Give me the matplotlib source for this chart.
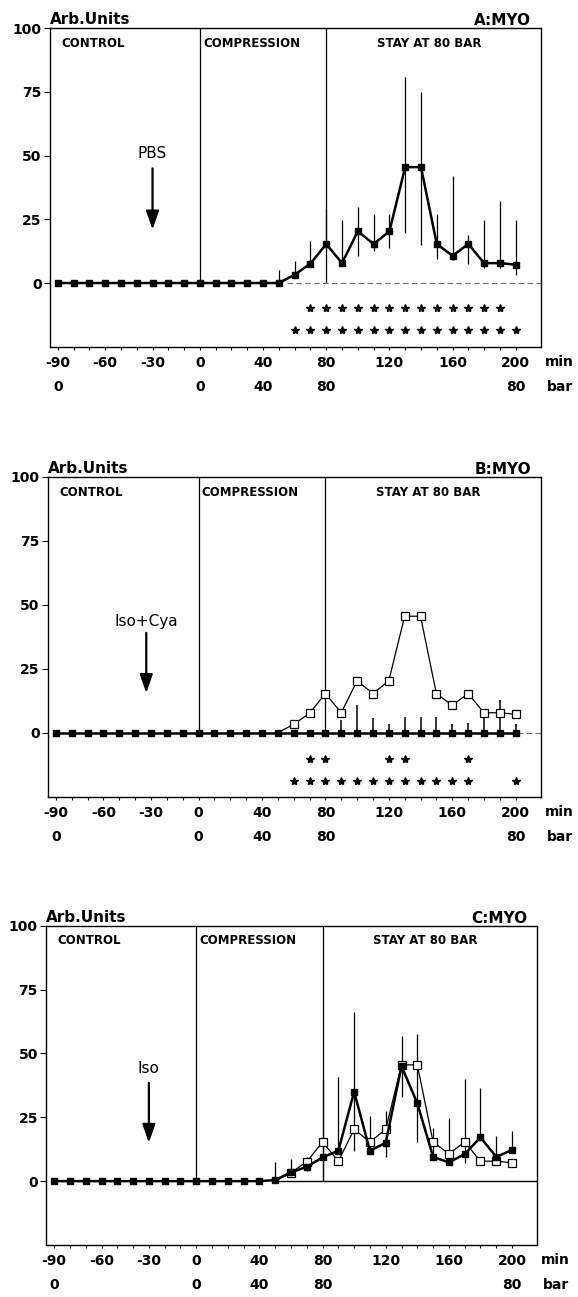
import matplotlib.pyplot as plt
from matplotlib.transforms import blended_transform_factory

plt.rcParams['font.family'] = 'DejaVu Sans'
plt.rcParams['font.weight'] = 'bold'

# sampling times (min)
minutes = [-90, -80, -70, -60, -50, -40, -30, -20, -10, 0, 10, 20, 30, 40, 50,
           60, 70, 80, 90, 100, 110, 120, 130, 140, 150, 160, 170, 180, 190, 200]

# A: PBS (also shown as open squares in B and C)
pbs_mean = [0, 0, 0, 0, 0, 0, 0, 0, 0, 0, 0, 0, 0, 0, 0,
            3.3, 7.6, 15.3, 7.8, 20.3, 15.3, 20.3, 45.5, 45.5, 15.3, 10.7, 15.3, 7.8, 7.8, 7.2]
pbs_top = [0, 0, 0, 0, 0, 0, 0, 0, 0, 0, 0, 0, 0, 0, 5,
           8.8, 16.6, 29, 24.8, 29.8, 27, 27, 81, 75, 27, 42, 19, 24.8, 32, 24.8]
pbs_bot = [0, 0, 0, 0, 0, 0, 0, 0, 0, 0, 0, 0, 0, 0, 0,
           3.3, 7.6, 15.3, 7.8, 10.5, 12.7, 13.7, 19.6, 14.8, 9.4, 9.1, 7.6, 5.9, 5.9, 3]

# B: Iso+Cya
cya_mean = [0, 0, 0, 0, 0, 0, 0, 0, 0, 0, 0, 0, 0, 0, 0,
            0, 0, 0, 0, 0, 0, 0, 0, 0, 0, 0, 0, 0, 0, 0]
cya_top = [0, 0, 0, 0, 0, 0, 0, 0, 0, 0, 0, 0, 0, 0, 0,
           0, 0, 0, 5, 10.7, 5.6, 3.6, 6, 6, 6, 3.6, 3.9, 8.2, 12.8, 3.6]

# C: Iso
iso_mean = [0, 0, 0, 0, 0, 0, 0, 0, 0, 0, 0, 0, 0, 0, 0.4,
            3.4, 5.6, 9.3, 11.9, 35, 11.9, 15, 45, 30.5, 9.5, 7.3, 10.6, 17.1, 9.5, 12.2]
iso_top = [0, 0, 0, 0, 0, 0, 0, 0, 0, 0, 0, 0, 0, 0, 7.3,
           8.5, 9.5, 40, 40.7, 66.4, 25.6, 27.5, 57, 57.5, 20.7, 24.6, 40, 36.3, 17.6, 19.6]
iso_bot = [0, 0, 0, 0, 0, 0, 0, 0, 0, 0, 0, 0, 0, 0, 0.4,
           3.4, 4, 0, 11.9, 11.9, 11.9, 9.3, 33, 15.4, 9, 7, 6.9, 17, 9, 12]

# significance stars
a_star1 = [70, 80, 90, 100, 110, 120, 130, 140, 150, 160, 170, 180, 190]
a_star2 = [60, 70, 80, 90, 100, 110, 120, 130, 140, 150, 160, 170, 180, 190, 200]
b_star1 = [70, 80, 120, 130, 170]
b_star2 = [60, 70, 80, 90, 100, 110, 120, 130, 140, 150, 160, 170, 200]

min_labels = [-90, -60, -30, 0, 40, 80, 120, 160, 200]
bar_pos = [-90, 0, 40, 80, 200]
bar_labels = ['0', '0', '40', '80', '80']
y_ticks = [0, 25, 50, 75, 100]


def frame(ax, title, drug, drug_y, arrow_x, arrow_top, arrow_tip, dashed_zero):
    ax.set_xlim(-95, 216)
    ax.set_ylim(-25, 100)
    ax.set_xticks(minutes)
    ax.set_xticklabels([str(m) if m in min_labels else '' for m in minutes])
    ax.set_yticks(y_ticks)
    ax.tick_params(axis='x', direction='out', length=2.5, width=0.8, pad=4, labelsize=10)
    ax.tick_params(axis='y', direction='out', length=4, width=0.8, pad=2, labelsize=10)
    for s in ax.spines.values():
        s.set_linewidth(1.0)
    ax.vlines([0, 80], 0, 100, color='black', lw=0.9)
    if dashed_zero:
        ax.plot([55, 216], [0, 0], color='0.45', lw=0.8, ls=(0, (5, 3)))
    else:
        ax.plot([50, 216], [0, 0], color='black', lw=1.0)
    ax.text(-88, 94, 'CONTROL', fontsize=8.5, va='center', ha='left')
    ax.text(2, 94, 'COMPRESSION', fontsize=8.5, va='center', ha='left')
    ax.text(145, 94, 'STAY AT 80 BAR', fontsize=8.5, va='center', ha='center')
    ax.annotate('Arb.Units', xy=(0, 1), xycoords='axes fraction', xytext=(0, 4),
                textcoords='offset pixels', ha='left', va='baseline', fontsize=11)
    ax.annotate(title, xy=(1, 1), xycoords='axes fraction', xytext=(-10, 3),
                textcoords='offset pixels', ha='right', va='baseline', fontsize=11)
    trans = blended_transform_factory(ax.transData, ax.transAxes)
    for p, lbl in zip(bar_pos, bar_labels):
        ax.annotate(lbl, xy=(p, 0), xycoords=trans, xytext=(0, -40),
                    textcoords='offset pixels', ha='center', va='center', fontsize=10)
    ax.annotate('min', xy=(1, 0), xycoords='axes fraction', xytext=(4, -15),
                textcoords='offset pixels', ha='left', va='center', fontsize=10)
    ax.annotate('bar', xy=(1, 0), xycoords='axes fraction', xytext=(6, -40),
                textcoords='offset pixels', ha='left', va='center', fontsize=10)
    ax.text(arrow_x, drug_y, drug, fontsize=11, fontweight='normal', ha='center', va='center')
    ax.annotate('', xy=(arrow_x, arrow_tip), xytext=(arrow_x, arrow_top),
                arrowprops=dict(arrowstyle='-|>,head_length=0.8,head_width=0.28',
                                color='black', lw=1.6, mutation_scale=14,
                                shrinkA=0, shrinkB=0))


def errs(mean, bot, top):
    return [[m - b for m, b in zip(mean, bot)], [t - m for m, t in zip(mean, top)]]


def open_series(ax):
    ax.plot(minutes[14:], pbs_mean[14:], color='black', lw=0.9, zorder=4)
    ax.plot(minutes[15:], pbs_mean[15:], ls='none', marker='s', ms=5.5,
            mfc='white', mec='black', mew=0.9, zorder=5)


fig = plt.figure(figsize=(5.78, 12.97), dpi=100)
ax1 = fig.add_axes([0.0863, 0.7327, 0.8497, 0.2455])
ax2 = fig.add_axes([0.0830, 0.3857, 0.8530, 0.2468])
ax3 = fig.add_axes([0.0800, 0.0401, 0.8496, 0.2462])

# A
frame(ax1, 'A:MYO', 'PBS', 51, -30, 45, 21, True)
ax1.errorbar(minutes, pbs_mean, yerr=errs(pbs_mean, pbs_bot, pbs_top), fmt='none',
             ecolor='black', elinewidth=0.9, capsize=0, zorder=2)
ax1.plot(minutes, pbs_mean, color='black', lw=1.8, marker='s', ms=5, zorder=3)
ax1.plot(a_star1, [-10] * len(a_star1), ls='none', marker='*', ms=6, color='black')
ax1.plot(a_star2, [-18.5] * len(a_star2), ls='none', marker='*', ms=6, color='black')

# B
frame(ax2, 'B:MYO', 'Iso+Cya', 43.5, -33, 39, 15.5, True)
ax2.errorbar(minutes, cya_mean, yerr=errs(cya_mean, cya_mean, cya_top), fmt='none',
             ecolor='black', elinewidth=1.1, capsize=0, zorder=2)
open_series(ax2)
ax2.plot(minutes, cya_mean, color='black', lw=1.8, marker='s', ms=5, zorder=6)
ax2.plot(b_star1, [-10.4] * len(b_star1), ls='none', marker='*', ms=6, color='black')
ax2.plot(b_star2, [-18.9] * len(b_star2), ls='none', marker='*', ms=6, color='black')

# C
frame(ax3, 'C:MYO', 'Iso', 44, -30, 38.5, 15, False)
ax3.errorbar(minutes, iso_mean, yerr=errs(iso_mean, iso_bot, iso_top), fmt='none',
             ecolor='black', elinewidth=0.9, capsize=0, zorder=2)
open_series(ax3)
ax3.plot(minutes, iso_mean, color='black', lw=1.8, marker='s', ms=5, zorder=6)

fig.savefig('out.png', dpi=100)
